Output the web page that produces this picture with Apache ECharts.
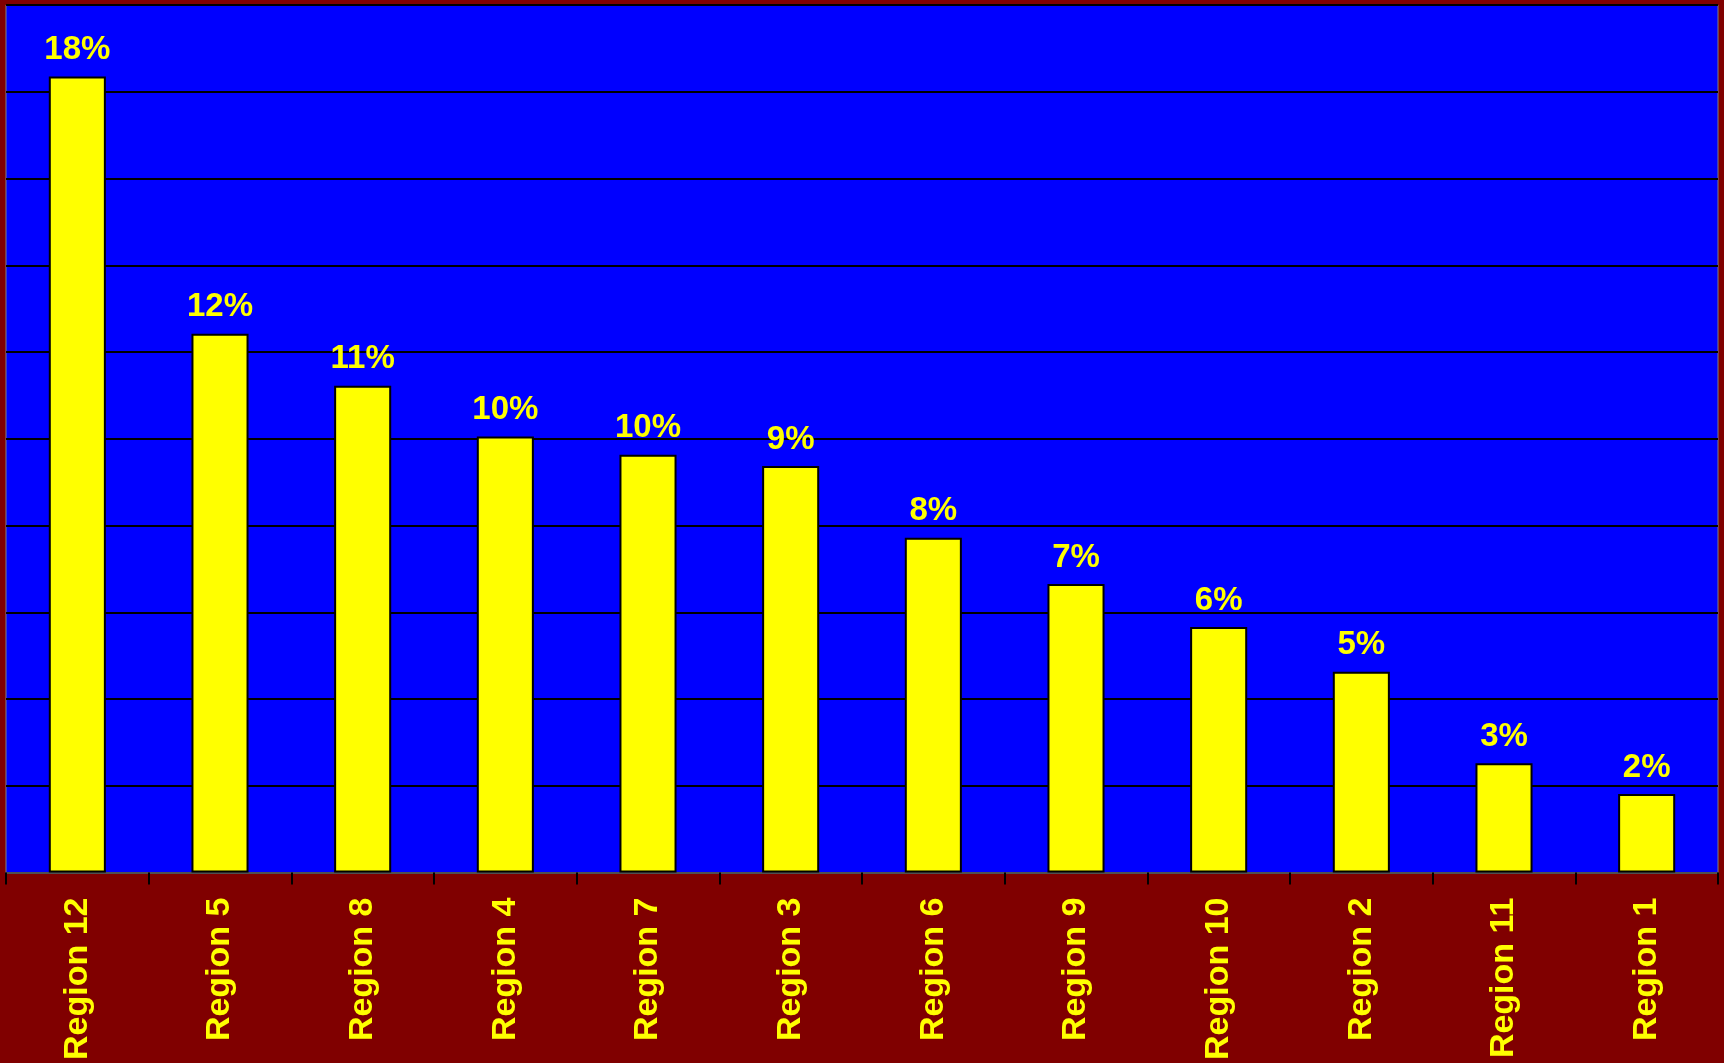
<!DOCTYPE html>
<html>
<head>
<meta charset="utf-8">
<style>
  html, body { margin: 0; padding: 0; background: #800000; }
  #chart { width: 1724px; height: 1063px; }
</style>
<script src="https://cdn.jsdelivr.net/npm/echarts@6/dist/echarts.min.js"></script>
</head>
<body>
<div id="chart"></div>
<script>
const categories = ['Region 12','Region 5','Region 8','Region 4','Region 7','Region 3','Region 6','Region 9','Region 10','Region 2','Region 11','Region 1'];
const shares = [18.35, 12.42, 11.22, 10.05, 9.63, 9.37, 7.72, 6.65, 5.66, 4.63, 2.52, 1.81];
const yMin = 0, yMax = 20, yStep = 2;

const chart = echarts.init(document.getElementById('chart'), null, { renderer: 'canvas' });
chart.setOption({
  backgroundColor: '#800000',
  animation: false,
  grid: {
    left: 6, right: 6, top: 5, bottom: 189.5,
    show: true, backgroundColor: '#0000ff', borderColor: '#808080', borderWidth: 1
  },
  xAxis: {
    type: 'category',
    data: categories,
    axisLine: { show: true, lineStyle: { color: '#505050', width: 2 } },
    axisTick: { show: true, length: 12, lineStyle: { color: '#000', width: 2 } },
    axisLabel: {
      rotate: 90, margin: 25, color: '#ffff00',
      fontFamily: 'Liberation Sans, Arial, sans-serif', fontWeight: 'bold', fontSize: 34,
      padding: [0, 0, 6, 0]
    }
  },
  yAxis: {
    type: 'value', min: yMin, max: yMax, interval: yStep,
    axisLine: { show: false }, axisTick: { show: false }, axisLabel: { show: false },
    splitLine: { show: true, lineStyle: { color: '#000', width: 2 } }
  },
  series: [{
    type: 'bar',
    data: shares,
    barWidth: '40%',
    itemStyle: { color: '#ffff00', borderColor: '#000', borderWidth: 2 },
    label: {
      show: true, position: 'top', distance: 10, color: '#ffff00',
      fontFamily: 'Liberation Sans, Arial, sans-serif', fontWeight: 'bold', fontSize: 33,
      formatter: p => Math.round(p.value) + '%'
    }
  }]
});
</script>
</body>
</html>
